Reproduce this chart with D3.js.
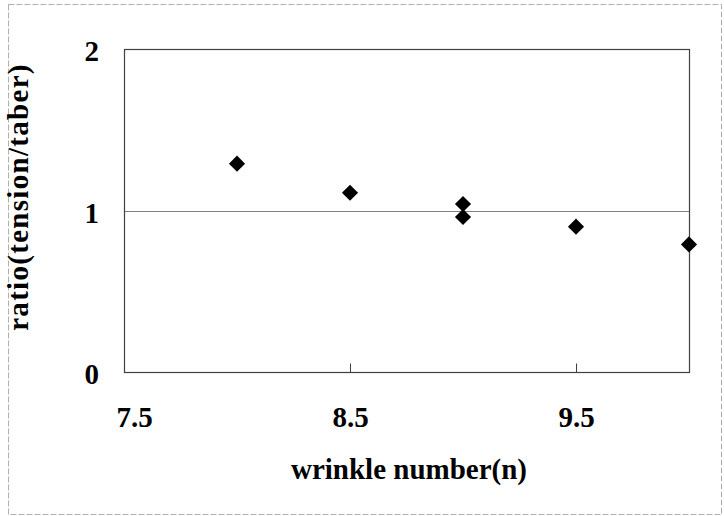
<!DOCTYPE html>
<html>
<head>
<meta charset="utf-8">
<script src="https://cdn.jsdelivr.net/npm/d3@7"></script>
<style>
    body { margin: 0; background: #fff; }
    .lbl { font-family: "Liberation Serif", "Times New Roman", serif; font-weight: bold; fill: #000; }
</style>
</head>
<body>
<script>
//wrap everything so nothing ends up in global scope
(function () {

    //chart data
    var wrinkleNumbers = [8, 8.5, 9, 9, 9.5, 10];
    var ratioValues = [1.29, 1.11, 1.04, 0.96, 0.90, 0.79];
    var xTickLabels = [7.5, 8.5, 9.5];
    var yTickLabels = [0, 1, 2];
    var xTitle = "wrinkle number(n)";
    var yTitle = "ratio(tension/taber)";

    var width = 724,
        height = 516;

    var svg = d3.select("body")
        .append("svg")
        .attr("width", width)
        .attr("height", height);

    //faint outer frame around the figure
    svg.append("rect")
        .attr("x", 8.5)
        .attr("y", 4.5)
        .attr("width", 713)
        .attr("height", 510)
        .attr("fill", "none")
        .attr("stroke", "#b0b0b0")
        .attr("stroke-dasharray", "6,2");

    //plot area
    var x = d3.scaleLinear().domain([7.5, 10]).range([124, 689]);
    var y = d3.scaleLinear().domain([0, 2]).range([372, 49]);

    //grid line at ratio 1
    svg.append("line")
        .attr("x1", x(7.5))
        .attr("x2", x(10))
        .attr("y1", Math.round(y(1)) + 0.5)
        .attr("y2", Math.round(y(1)) + 0.5)
        .attr("stroke", "#808080")
        .attr("stroke-width", 1);

    //plot border
    svg.append("rect")
        .attr("x", x(7.5) + 0.5)
        .attr("y", y(2) + 0.5)
        .attr("width", x(10) - x(7.5))
        .attr("height", y(0) - y(2))
        .attr("fill", "none")
        .attr("stroke", "#404040")
        .attr("stroke-width", 1.2);

    //x axis: ticks point inward, labels well below
    var xAxis = d3.axisBottom(x)
        .tickValues(xTickLabels)
        .tickSizeInner(-9)
        .tickSizeOuter(0)
        .tickPadding(34)
        .tickFormat(d3.format(".1f"));

    var gx = svg.append("g")
        .attr("transform", "translate(0," + (y(0) + 0.5) + ")")
        .call(xAxis);
    gx.select(".domain").remove();
    gx.selectAll("line").attr("stroke", "#404040");
    gx.selectAll("text")
        .attr("class", "lbl")
        .style("font-size", "29px")
        //first label sits a little inside the plot edge, as in the original
        .attr("dx", function (d, i) { return i === 0 ? 10 : 0; });

    //y axis: labels only
    var yAxis = d3.axisLeft(y)
        .tickValues(yTickLabels)
        .tickSize(0)
        .tickPadding(25)
        .tickFormat(d3.format("d"));

    var gy = svg.append("g")
        .attr("transform", "translate(" + x(7.5) + ",0)")
        .call(yAxis);
    gy.select(".domain").remove();
    gy.selectAll("text")
        .attr("class", "lbl")
        .attr("dy", "0.4em")
        .style("font-size", "29px");

    //axis titles
    svg.append("text")
        .attr("class", "lbl")
        .attr("x", 409)
        .attr("y", 479)
        .attr("text-anchor", "middle")
        .style("font-size", "29px")
        .text(xTitle);

    svg.append("text")
        .attr("class", "lbl")
        .attr("transform", "translate(28,197) rotate(-90)")
        .attr("text-anchor", "middle")
        .style("font-size", "29px")
        .style("letter-spacing", "1.3px")
        .text(yTitle);

    //diamond markers
    var diamond = d3.symbol().type(d3.symbolSquare).size(130);

    svg.selectAll(".pt")
        .data(wrinkleNumbers)
        .enter()
        .append("path")
        .attr("class", "pt")
        .attr("d", diamond)
        .attr("transform", function (d, i) {
            return "translate(" + x(d) + "," + y(ratioValues[i]) + ") rotate(45)";
        })
        .attr("fill", "#000");

})();
</script>
</body>
</html>
